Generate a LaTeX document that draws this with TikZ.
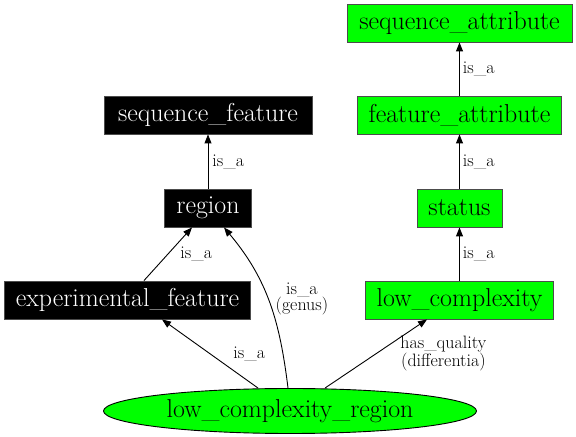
\documentclass[tikz,border=0pt]{standalone}
\usetikzlibrary{arrows.meta}
\usetikzlibrary{positioning}
\usetikzlibrary{shapes.geometric}

\begin{document}
\begin{tikzpicture}[
	x=1bp, y=1bp, line width=0.9bp,
  > = {Triangle[length=9bp,width=7bp]},
  term/.style = {draw=black!70,rectangle,minimum height=38bp,inner xsep=11.5bp,inner ysep=0pt,font=\fontsize{26}{29}\selectfont},
  plain term/.style = {term,fill=black,text=white},
  quality/.style = {term,fill=green},
  genus/.style = {draw,ellipse,fill=green,minimum width=373bp,minimum height=45bp,inner sep=0pt,font=\fontsize{26}{29}\selectfont},
  lbl/.style = {inner sep=0pt,align=center,font=\fontsize{18}{15}\selectfont}
  ]
	\useasboundingbox (0,0) rectangle (576,437);

	\node[quality,minimum width=225bp] (seqattr) at (459.5,414) {sequence\_attribute};
	\node[quality,minimum width=203bp] (featattr) at (459.5,322) {feature\_attribute};
	\node[quality] (status) at (459.5,229) {status};
	\node[quality] (lowcomp) at (459.5,137) {low\_complexity};

	\node[plain term,minimum width=208bp] (seqfeat) at (208,322) {sequence\_feature};
	\node[plain term] (region) at (208,229) {region};
	\node[plain term] (expfeat) at (127.5,137) {experimental\_feature};

	\node[genus] (lcr) at (290,26) {low\_complexity\_region};

	\draw[->] (featattr) -- node[lbl,right=3bp] {is\_a} (seqattr);
	\draw[->] (status) -- node[lbl,right=3bp] {is\_a} (featattr);
	\draw[->] (lowcomp) -- node[lbl,right=3bp] {is\_a} (status);
	\draw[->] (region) -- node[lbl,right=4bp] {is\_a} (seqfeat);
	\draw[->] ([xshift=16.5bp]expfeat.north) -- node[lbl,right=12bp] {is\_a} ([xshift=-16bp]region.south);

	\draw[->] ([xshift=-32bp]lcr.north) -- node[lbl,right=23bp] {is\_a} ([xshift=34.5bp]expfeat.south);
	\draw[->] ([xshift=-2bp]lcr.north) to[out=97,in=-50] node[lbl,right=6bp,yshift=3bp] {is\_a\\(genus)} ([xshift=16bp]region.south);
	\draw[->] ([xshift=35bp]lcr.north) -- node[lbl,right=24bp] {has\_quality\\(differentia)} ([xshift=-32.5bp]lowcomp.south);

\end{tikzpicture}
\end{document}
